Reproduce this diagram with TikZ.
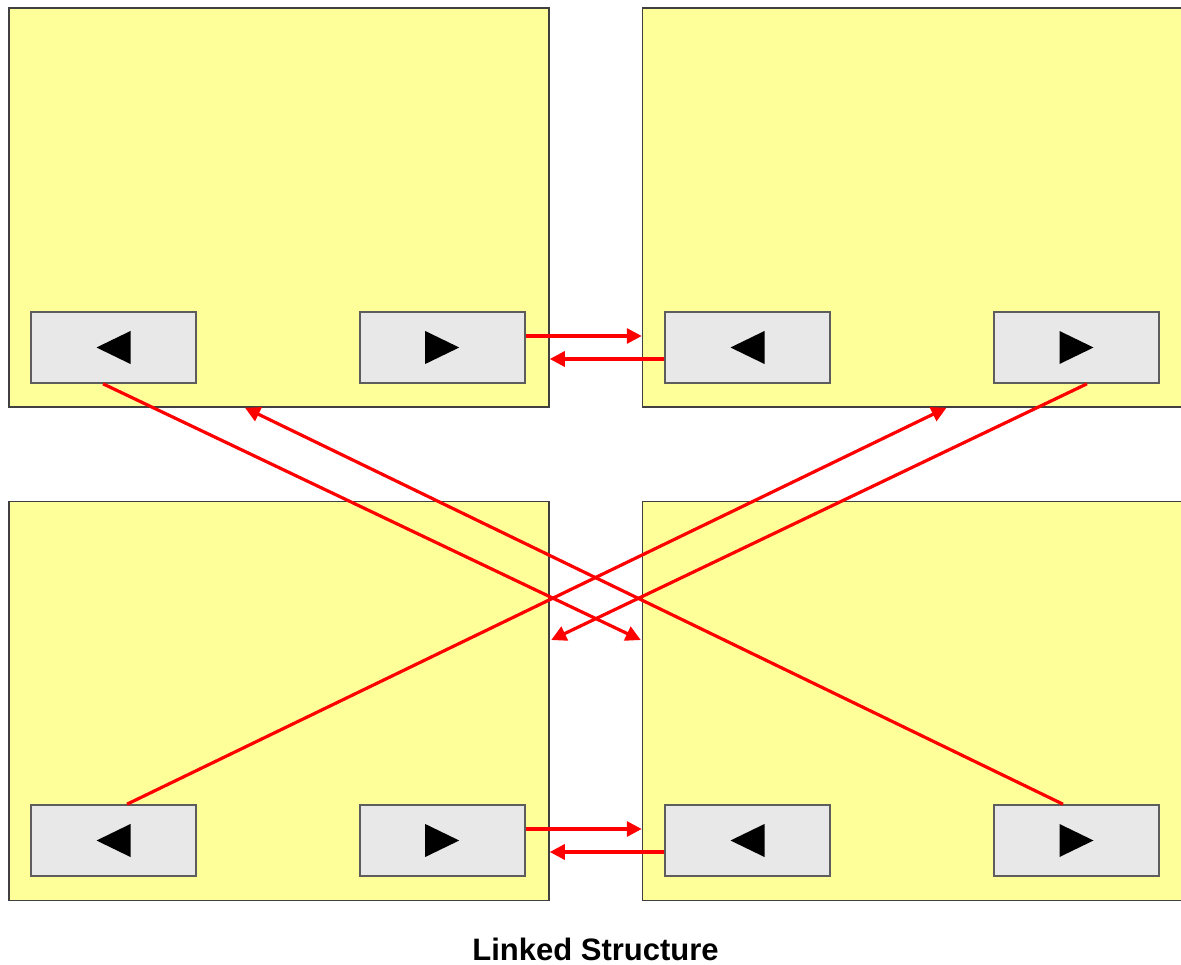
\documentclass[tikz,border=0pt]{standalone}
\usepackage{fontspec}
\setmainfont{Liberation Sans}
\usetikzlibrary{arrows.meta,calc}
\definecolor{panelY}{HTML}{FFFF99}
\definecolor{btnG}{HTML}{E8E8E8}
\definecolor{edgeG}{HTML}{404040}
\tikzset{
  panel/.style={draw=edgeG, line width=1.5pt, fill=panelY, minimum width=540pt, minimum height=399pt, inner sep=0pt},
  btn/.style={draw=edgeG!85, line width=1.6pt, fill=btnG, minimum width=165pt, minimum height=71pt, inner sep=0pt},
  arr/.style={draw=red, line width=3.2pt, -{Triangle[length=15pt,width=15pt]}},
}
\newcommand{\lefttri}[1]{\fill[black] ($(#1.center)+(-17,0)$) -- ++(34,16.5) -- ++(0,-33) -- cycle;}
\newcommand{\righttri}[1]{\fill[black] ($(#1.center)+(17,0)$) -- ++(-34,16.5) -- ++(0,-33) -- cycle;}
\begin{document}
\begin{tikzpicture}[x=1pt,y=-1pt]
\useasboundingbox (0,0) rectangle (1181,965);
\fill[white] (0,0) rectangle (1181,965);
% panels
\node[panel] (tl) at (279,207.5) {};
\node[panel] (tr) at (912.5,207.5) {};
\node[panel] (bl) at (279,701) {};
\node[panel] (br) at (912.5,701) {};
% buttons
\node[btn] (tlL) at (113.5,347.5) {};
\node[btn] (tlR) at (442.2,347.5) {};
\node[btn] (trL) at (747.5,347.5) {};
\node[btn] (trR) at (1076.5,347.5) {};
\node[btn] (blL) at (113.5,840.5) {};
\node[btn] (blR) at (442.2,840.5) {};
\node[btn] (brL) at (747.5,840.5) {};
\node[btn] (brR) at (1076.5,840.5) {};
\lefttri{tlL}\righttri{tlR}\lefttri{trL}\righttri{trR}
\lefttri{blL}\righttri{blR}\lefttri{brL}\righttri{brR}
% horizontal links
\draw[arr] ([yshift=11.5pt]tlR.east) -- ([yshift=11.5pt]tlR.east -| tr.west);
\draw[arr] ([yshift=-11.5pt]trL.west) -- ([yshift=-11.5pt]trL.west -| tl.east);
\draw[arr] ([yshift=11.5pt]blR.east) -- ([yshift=11.5pt]blR.east -| br.west);
\draw[arr] ([yshift=-11.5pt]brL.west) -- ([yshift=-11.5pt]brL.west -| bl.east);
% diagonal links
\draw[arr] ([xshift=-10.5pt]tlL.south) -- ([yshift=61pt,xshift=-1pt]br.west);
\draw[arr] ([xshift=-13.5pt]brR.north) -- ([xshift=-34pt]tl.south);
\draw[arr] ([xshift=10.5pt]trR.south) -- ([yshift=61pt,xshift=1.5pt]bl.east);
\draw[arr] ([xshift=13.5pt]blL.north) -- ([xshift=34pt]tr.south);
% title
\node[font=\bfseries\fontsize{31}{36}\selectfont] (title) at (595.5,949) {Linked Structure};
\end{tikzpicture}
\end{document}
